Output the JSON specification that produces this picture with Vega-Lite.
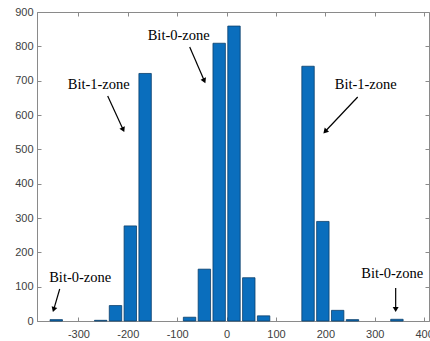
{
  "$schema": "https://vega.github.io/schema/vega-lite/v6.json",
  "autosize": "none",
  "padding": {"left": 37, "top": 12, "right": 1, "bottom": 20},
  "width": 392,
  "height": 309,
  "background": "white",
  "config": {
    "view": {"stroke": "#8a8a8a", "strokeWidth": 1},
    "axis": {
      "grid": false,
      "domainColor": "#8a8a8a",
      "tickColor": "#8a8a8a",
      "labelFont": "Liberation Sans",
      "labelFontSize": 11,
      "labelColor": "#404040",
      "title": null
    }
  },
  "datasets": {
    "bins": [
      {"start": -360, "end": -330, "count": 4},
      {"start": -270, "end": -240, "count": 2},
      {"start": -240, "end": -210, "count": 45},
      {"start": -210, "end": -180, "count": 277},
      {"start": -180, "end": -150, "count": 721},
      {"start": -90, "end": -60, "count": 11},
      {"start": -60, "end": -30, "count": 151},
      {"start": -30, "end": 0, "count": 809},
      {"start": 0, "end": 30, "count": 859},
      {"start": 30, "end": 60, "count": 126},
      {"start": 60, "end": 90, "count": 15},
      {"start": 150, "end": 180, "count": 742},
      {"start": 180, "end": 210, "count": 290},
      {"start": 210, "end": 240, "count": 31},
      {"start": 240, "end": 270, "count": 4},
      {"start": 330, "end": 360, "count": 5}
    ],
    "notes": [
      {"label": "Bit-0-zone", "tx": -97, "ty": 830, "ax": -74.7, "ay": 798, "hx": -45.1, "hy": 699.6, "angle": 156},
      {"label": "Bit-1-zone", "tx": -259, "ty": 687, "ax": -240.8, "ay": 655.3, "hx": -209.4, "hy": 556.9, "angle": 155},
      {"label": "Bit-1-zone", "tx": 281.8, "ty": 687, "ax": 265.6, "ay": 652.4, "hx": 199.6, "hy": 551.9, "angle": 223},
      {"label": "Bit-0-zone", "tx": -296.5, "ty": 125, "ax": -338, "ay": 93.2, "hx": -350.2, "hy": 33.2, "angle": 198},
      {"label": "Bit-0-zone", "tx": 335.5, "ty": 137, "ax": 342.5, "ay": 96.1, "hx": 342.5, "hy": 33.5, "angle": 180}
    ]
  },
  "resolve": {"axis": {"x": "independent", "y": "independent"}},
  "layer": [
    {
      "data": {"name": "bins"},
      "mark": {"type": "rect", "fill": "#0a6ebd", "stroke": "#0b3f6b", "strokeWidth": 0.8, "xOffset": 1.2, "x2Offset": -1.2},
      "encoding": {
        "x": {"field": "start", "type": "quantitative",
              "scale": {"domain": [-384, 410], "nice": false, "zero": false},
              "axis": {"orient": "bottom", "values": [-300, -200, -100, 0, 100, 200, 300, 400], "tickSize": -4, "labelPadding": 11, "labelExpr": "'' + datum.value"}},
        "x2": {"field": "end"},
        "y": {"field": "count", "type": "quantitative",
              "scale": {"domain": [0, 900], "nice": false},
              "axis": {"orient": "left", "values": [0, 100, 200, 300, 400, 500, 600, 700, 800, 900], "tickSize": -4, "labelPadding": 8}},
        "y2": {"datum": 0}
      }
    },
    {
      "data": {"name": "notes"},
      "mark": {"type": "text", "font": "Liberation Serif", "fontSize": 14.5, "color": "black", "align": "center", "baseline": "middle"},
      "encoding": {
        "x": {"field": "tx", "type": "quantitative",
              "axis": {"orient": "top", "values": [-300, -200, -100, 0, 100, 200, 300, 400], "tickSize": -4, "labels": false, "domain": false}},
        "y": {"field": "ty", "type": "quantitative",
              "axis": {"orient": "right", "values": [0, 100, 200, 300, 400, 500, 600, 700, 800, 900], "tickSize": -4, "labels": false, "domain": false}},
        "text": {"field": "label"}
      }
    },
    {
      "data": {"name": "notes"},
      "mark": {"type": "rule", "color": "black", "strokeWidth": 1.2},
      "encoding": {
        "x": {"field": "ax", "type": "quantitative", "axis": null},
        "y": {"field": "ay", "type": "quantitative", "axis": null},
        "x2": {"field": "hx"},
        "y2": {"field": "hy"}
      }
    },
    {
      "data": {"name": "notes"},
      "mark": {"type": "point", "shape": "triangle-up", "filled": true, "color": "black", "size": 35, "opacity": 1},
      "encoding": {
        "x": {"field": "hx", "type": "quantitative", "axis": null},
        "y": {"field": "hy", "type": "quantitative", "axis": null},
        "angle": {"field": "angle", "type": "quantitative", "scale": null}
      }
    }
  ]
}
